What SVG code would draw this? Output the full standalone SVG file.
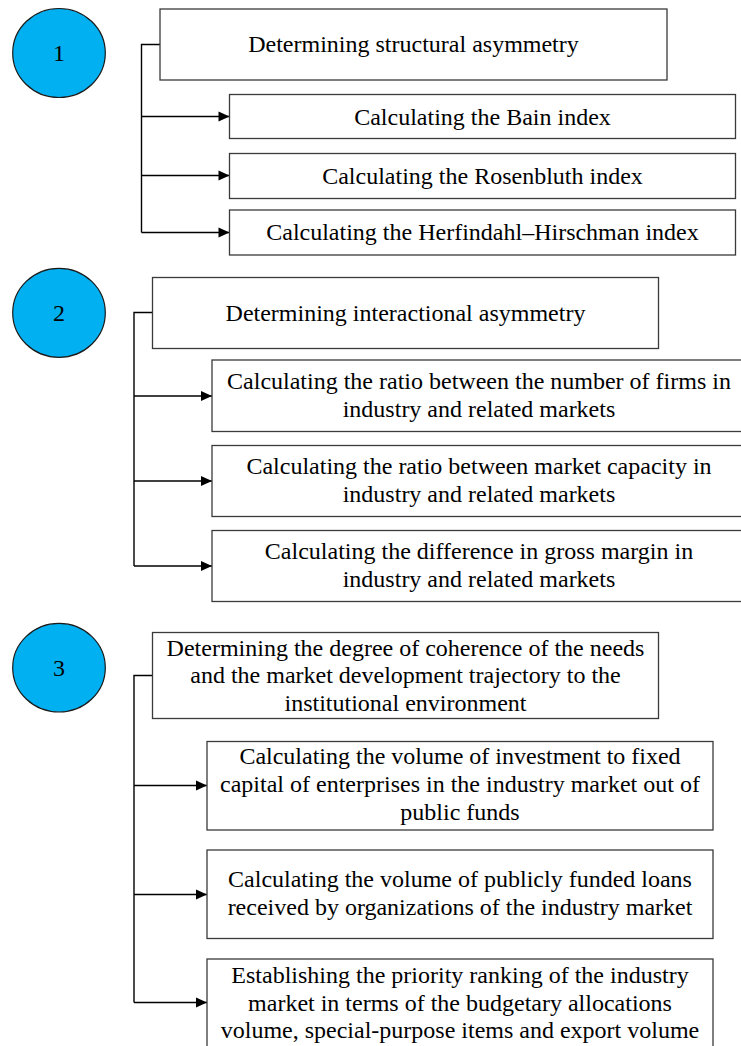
<svg xmlns="http://www.w3.org/2000/svg" width="741" height="1046" viewBox="0 0 741 1046">
<style>
.bg{fill:#ffffff}
.circ{fill:#00B0F0;stroke:#1a1a1a;stroke-width:1.2}
.box{fill:#ffffff;stroke:#3a3a3a;stroke-width:1.3}
.conn{fill:none;stroke:#000000;stroke-width:1.4}
text{font-family:"Liberation Serif","Times New Roman",serif;font-size:24px;fill:#000000;text-anchor:middle}
</style>
<defs>
<marker id="arr" markerWidth="11" markerHeight="11" refX="11" refY="5.5" orient="auto" markerUnits="userSpaceOnUse" overflow="visible">
<path d="M0,0.5 L11,5.5 L0,10.5 Z" fill="#000000"/>
</marker>
</defs>
<rect class="bg" x="0" y="0" width="741" height="1046"/>

<g id="connectors">
<polyline class="conn" points="160,44.5 141.5,44.5 141.5,232.5"/>
<line class="conn" x1="141.5" y1="116.5" x2="229.5" y2="116.5" marker-end="url(#arr)"/>
<line class="conn" x1="141.5" y1="175.5" x2="229.5" y2="175.5" marker-end="url(#arr)"/>
<line class="conn" x1="141.5" y1="232.5" x2="229.5" y2="232.5" marker-end="url(#arr)"/>

<polyline class="conn" points="152.5,312.5 134,312.5 134,566"/>
<line class="conn" x1="134" y1="396" x2="212" y2="396" marker-end="url(#arr)"/>
<line class="conn" x1="134" y1="481" x2="212" y2="481" marker-end="url(#arr)"/>
<line class="conn" x1="134" y1="566" x2="212" y2="566" marker-end="url(#arr)"/>

<polyline class="conn" points="152.5,675.5 134,675.5 134,1002.5"/>
<line class="conn" x1="134" y1="785.5" x2="207" y2="785.5" marker-end="url(#arr)"/>
<line class="conn" x1="134" y1="894.5" x2="207" y2="894.5" marker-end="url(#arr)"/>
<line class="conn" x1="134" y1="1002.5" x2="207" y2="1002.5" marker-end="url(#arr)"/>
</g>

<g id="n1">
<ellipse class="circ" cx="59" cy="53" rx="46.3" ry="44.5"/>
<text x="59" y="61">1</text>
</g>
<g id="n1-head">
<rect class="box" x="160" y="9" width="507" height="71"/>
<text x="413.5" y="52">Determining structural asymmetry</text>
</g>
<g id="n1-a">
<rect class="box" x="229.5" y="94.5" width="506" height="44"/>
<text x="482.5" y="124.5">Calculating the Bain index</text>
</g>
<g id="n1-b">
<rect class="box" x="229.5" y="153.5" width="506" height="45"/>
<text x="482.5" y="183.5">Calculating the Rosenbluth index</text>
</g>
<g id="n1-c">
<rect class="box" x="229.5" y="210" width="506" height="45"/>
<text x="482.5" y="240">Calculating the Herfindahl–Hirschman index</text>
</g>

<g id="n2">
<ellipse class="circ" cx="59" cy="312.8" rx="46.3" ry="44.5"/>
<text x="59" y="321">2</text>
</g>
<g id="n2-head">
<rect class="box" x="152.5" y="277.5" width="506" height="71"/>
<text x="405.5" y="321">Determining interactional asymmetry</text>
</g>
<g id="n2-a">
<rect class="box" x="212" y="360" width="534" height="71.5"/>
<text x="479" y="389">Calculating the ratio between the number of firms in</text>
<text x="479" y="417">industry and related markets</text>
</g>
<g id="n2-b">
<rect class="box" x="212" y="445.5" width="534" height="71"/>
<text x="479" y="474">Calculating the ratio between market capacity in</text>
<text x="479" y="502">industry and related markets</text>
</g>
<g id="n2-c">
<rect class="box" x="212" y="530.5" width="534" height="71"/>
<text x="479" y="559">Calculating the difference in gross margin in</text>
<text x="479" y="587">industry and related markets</text>
</g>

<g id="n3">
<ellipse class="circ" cx="59" cy="667.7" rx="46.3" ry="44.3"/>
<text x="59" y="676">3</text>
</g>
<g id="n3-head">
<rect class="box" x="152.5" y="632.5" width="506" height="86"/>
<text x="405.5" y="655.5">Determining the degree of coherence of the needs</text>
<text x="405.5" y="683">and the market development trajectory to the</text>
<text x="405.5" y="710.5">institutional environment</text>
</g>
<g id="n3-a">
<rect class="box" x="207" y="741.5" width="506" height="88.5"/>
<text x="460" y="764">Calculating the volume of investment to fixed</text>
<text x="460" y="792">capital of enterprises in the industry market out of</text>
<text x="460" y="820">public funds</text>
</g>
<g id="n3-b">
<rect class="box" x="207" y="850" width="506" height="88.5"/>
<text x="460" y="887">Calculating the volume of publicly funded loans</text>
<text x="460" y="915">received by organizations of the industry market</text>
</g>
<g id="n3-c">
<rect class="box" x="207" y="959" width="506" height="100"/>
<text x="460" y="983">Establishing the priority ranking of the industry</text>
<text x="460" y="1010.5">market in terms of the budgetary allocations</text>
<text x="460" y="1038">volume, special-purpose items and export volume</text>
</g>
</svg>
